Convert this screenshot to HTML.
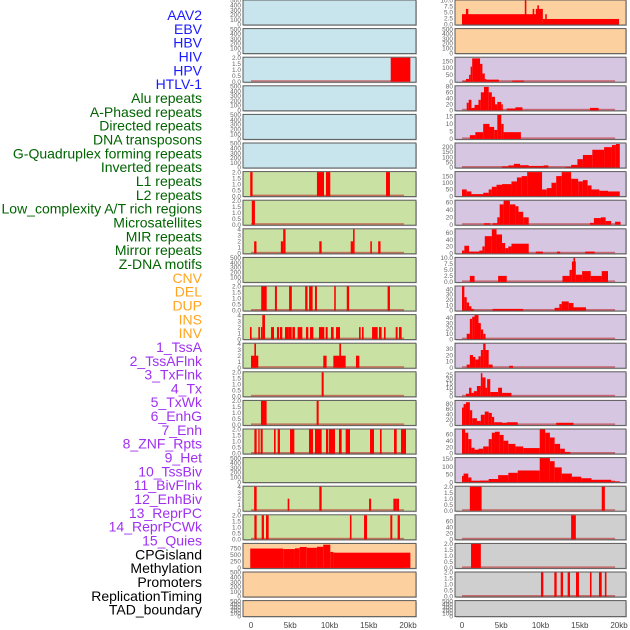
<!DOCTYPE html>
<html><head><meta charset="utf-8">
<style>
html,body{margin:0;padding:0;background:#fff;}
svg{display:block;font-family:"Liberation Sans",sans-serif;}
</style></head>
<body>
<svg id="chart" width="630" height="630" viewBox="0 0 630 630" xmlns="http://www.w3.org/2000/svg">
<g id="labels"></g>
<g id="panels"></g>
<g id="xaxes"></g>
</svg>
<script>
const trackLabels = ["AAV2","EBV","HBV","HIV","HPV","HTLV-1","Alu repeats","A-Phased repeats","Directed repeats","DNA transposons","G-Quadruplex forming repeats","Inverted repeats","L1 repeats","L2 repeats","Low_complexity A/T rich regions","Microsatellites","MIR repeats","Mirror repeats","Z-DNA motifs","CNV","DEL","DUP","INS","INV","1_TssA","2_TssAFlnk","3_TxFlnk","4_Tx","5_TxWk","6_EnhG","7_Enh","8_ZNF_Rpts","9_Het","10_TssBiv","11_BivFlnk","12_EnhBiv","13_ReprPC","14_ReprPCWk","15_Quies","CPGisland","Methylation","Promoters","ReplicationTiming","TAD_boundary"];
const labelColors = ["#1a1aff","#1a1aff","#1a1aff","#1a1aff","#1a1aff","#1a1aff","#006400","#006400","#006400","#006400","#006400","#006400","#006400","#006400","#006400","#006400","#006400","#006400","#006400","#ffa520","#ffa520","#ffa520","#ffa520","#ffa520","#a030f0","#a030f0","#a030f0","#a030f0","#a030f0","#a030f0","#a030f0","#a030f0","#a030f0","#a030f0","#a030f0","#a030f0","#a030f0","#a030f0","#a030f0","#000","#000","#000","#000","#000"];
const xTickValues = [0,5,10,15,20];
const xTickLabels = ["0","5kb","10kb","15kb","20kb"];
const ticks500 = [0,100,200,300,400,500];
const ticks2 = [0,0.5,1.0,1.5,2.0];
const ticks4 = [0,1,2,3,4];
const ticks10 = [0,2.5,5.0,7.5,10.0];

// segments: [startKb, endKb, value]
const segsR0 = [[0,10,4.3],[0.5,0.8,6.5],[8.0,8.2,10],[9.0,9.2,6.5],[9.4,10.3,6.5],[9.6,9.8,8],[10.3,20,2.3],[10.6,10.8,4.3]];
const segsL2 = [[17.8,20.3,2]];
const segsR2 = [[0.1,0.5,5],[0.5,0.9,20],[0.9,1.1,50],[1.1,1.3,110],[1.3,2.3,170],[2.3,2.6,130],[2.6,2.9,60],[2.9,3.1,20],[3.1,4.7,15],[6.4,7.9,8]];
const segsR3 = [[0.6,0.85,25],[0.85,1.2,35],[1.2,1.6,8],[1.6,2.1,18],[2.1,2.4,35],[2.4,2.8,60],[2.8,3.4,78],[3.4,3.8,60],[3.8,4.2,45],[4.2,4.5,20],[4.5,5.0,28],[5.0,5.2,20],[5.7,6.8,6],[6.8,7.7,10],[16.3,17.4,8]];
const segsR4 = [[1.0,1.7,2.5],[1.7,2.7,4.5],[2.7,3.5,10],[3.5,4.1,8],[4.1,4.5,6],[4.5,5.0,16],[5.0,5.3,10],[5.3,5.8,4.5],[5.8,7.5,4.5]];
const segsR5 = [[5.1,5.9,10],[5.9,6.6,20],[6.6,7.4,35],[7.4,8.5,22],[8.5,10.4,15],[10.4,11.0,20],[13.2,13.9,5],[13.9,14.7,25],[14.7,15.4,80],[15.4,16.6,120],[16.6,18.1,170],[18.1,19.1,195],[19.1,19.6,215],[19.6,20.1,225]];
const segsL6 = [[-0.1,0.2,2],[8.4,9.3,2],[9.55,10.1,2],[17.2,17.7,2]];
const segsR6 = [[0,0.6,50],[0.6,1.2,35],[1.2,2.7,15],[2.7,3.4,25],[3.4,3.8,50],[3.8,4.4,70],[4.4,5.1,85],[5.1,6.3,90],[6.3,7.0,110],[7.0,7.6,140],[7.6,8.3,150],[8.3,10.2,180],[10.2,10.8,50],[10.8,11.4,60],[11.4,12.0,100],[12.0,12.7,150],[12.7,13.9,180],[13.9,14.8,130],[14.8,15.4,110],[15.4,16.0,120],[16.0,16.5,80],[16.5,17.5,50],[17.5,18.6,40],[18.6,20.1,35]];
const segsL7 = [[0.1,0.5,2]];
const segsR7 = [[2.8,3.6,4],[3.9,4.5,4],[4.5,4.8,20],[4.8,5.3,55],[5.3,6.1,65],[6.1,6.8,55],[6.8,7.2,50],[7.2,7.8,35],[7.8,8.5,20],[16.3,16.8,5],[16.8,17.7,18],[17.7,18.3,20],[18.3,19.0,10],[19.5,20.2,8]];
const segsL8 = [[0.4,0.7,2],[3.8,4.1,2],[4.1,4.4,4],[8.7,9.0,2],[12.7,13.0,2],[13.0,13.2,4],[15.2,15.4,2],[16.2,16.5,2]];
const segsR8 = [[0,0.3,8],[0.3,0.9,22],[0.9,2.2,5],[2.2,2.6,8],[2.6,2.9,20],[2.9,3.8,50],[3.8,4.4,70],[4.4,5.1,55],[5.1,5.5,30],[5.5,5.9,15],[5.9,6.3,20],[6.3,8.5,28],[9.4,10.3,5],[12.1,12.5,5],[15.7,16.9,5]];
const segsR9 = [[1.0,1.6,2.5],[4.6,5.7,2.5],[12.8,13.7,2.5],[13.7,14.0,5],[14.0,14.5,8.5],[14.2,14.4,10],[14.5,15.3,3],[15.3,16.4,4.5],[16.4,17.8,2.5],[17.8,18.6,4.5]];
const segsL10 = [[1.3,2.0,2],[3.05,3.3,2],[4.85,5.2,2],[6.9,7.2,2],[7.4,7.85,2],[8.15,8.4,2],[10.6,10.8,2],[12.2,12.5,2],[17.4,17.7,2]];
const segsR10 = [[0,0.3,45],[0.3,0.6,25],[0.6,0.9,15],[0.9,1.2,8],[1.2,1.5,3],[3.9,7.8,3],[11.8,12.4,5],[12.4,12.7,12],[12.7,13.6,17],[13.6,14.2,14],[14.2,15.8,6]];
const segsL11 = [[-0.13,0.08,2],[0.93,1.15,2],[1.27,1.44,2],[1.44,1.78,4],[2.55,2.93,2],[3.31,3.57,2],[3.69,3.99,2],[4.33,4.76,2],[4.76,5.18,2],[5.27,5.6,2],[5.94,6.54,2],[7.0,7.3,2],[7.52,7.94,2],[8.66,9.34,2],[9.51,9.77,2],[10.19,10.53,2],[10.83,11.34,2],[13.76,13.97,2],[14.14,14.35,2],[15.42,16.14,2],[16.3,16.64,2],[16.94,17.15,2],[18.43,18.68,2],[18.85,19.19,2]];
const segsR11 = [[0.6,1.0,10],[1.0,1.3,38],[1.3,1.6,42],[1.6,2.1,45],[2.1,2.4,30],[2.4,2.7,18],[2.7,3.0,10]];
const segsL12 = [[0.0,0.93,2],[0.43,0.64,4],[9.21,9.63,2],[10.49,12.06,2],[11.25,11.47,4],[13.37,13.8,2]];
const segsR12 = [[0.6,1.0,5],[1.0,1.4,20],[1.4,1.7,17],[1.7,2.1,13],[2.1,2.4,18],[2.4,2.7,28],[2.7,3.0,38],[3.0,3.4,28],[3.4,3.9,5],[6.0,6.5,3]];
const segsL13 = [[9.0,9.26,2]];
const segsR13 = [[0.5,0.9,3],[0.9,1.2,10],[1.2,1.5,4],[1.5,1.9,6],[1.9,2.4,12],[2.4,2.6,27],[2.6,3.0,22],[3.0,3.2,10],[3.2,3.6,20],[3.6,4.6,5],[4.6,5.1,10],[5.1,6.3,4]];
const segsL14 = [[1.27,1.99,2],[8.36,8.62,2]];
const segsR14 = [[0,0.2,65],[0.2,0.5,78],[0.5,1.0,85],[1.0,1.3,55],[1.3,1.9,25],[1.9,2.4,15],[2.4,2.9,38],[2.9,3.4,50],[3.4,3.8,45],[3.8,4.1,30],[4.1,5.1,10],[5.1,5.7,8],[5.7,7.1,10],[12.0,14.2,8]];
const segsL15 = [[0.43,0.72,2],[0.93,1.1,2],[1.23,1.49,2],[2.93,3.14,2],[3.4,3.69,2],[4.97,5.52,2],[7.39,7.9,2],[8.15,9.0,2],[9.55,9.85,2],[9.94,10.7,2],[11.21,11.55,2],[12.06,12.61,2],[15.16,15.67,2],[16.43,16.64,2],[18.22,18.56,2],[19.11,19.75,2]];
const segsR15 = [[0,0.4,75],[0.4,0.8,65],[0.8,1.2,45],[1.2,1.6,18],[1.6,2.1,12],[2.1,2.7,15],[2.7,3.4,22],[3.4,3.8,45],[3.8,4.2,65],[4.2,4.8,68],[4.8,5.3,58],[5.3,5.9,40],[5.9,6.8,30],[6.8,7.8,22],[7.8,9.9,17],[9.9,10.6,75],[10.6,11.2,65],[11.2,11.8,50],[11.8,12.5,30],[12.5,13.1,15],[13.1,13.8,5]];
const segsR16 = [[0,0.2,40],[0.2,0.8,55],[0.8,1.2,30],[1.2,2.3,8],[2.3,3.4,10],[3.4,4.6,20],[4.6,5.9,45],[5.9,7.1,60],[7.1,9.9,75],[9.9,11.2,155],[11.2,11.8,135],[11.8,12.7,95],[12.7,14.0,55],[14.0,15.2,35],[15.2,16.5,25],[16.5,19.0,15],[19.0,20.1,5]];
const segsL17 = [[0.4,0.72,4],[4.67,4.88,2],[8.7,9.0,4],[15.04,15.3,2],[18.14,18.56,2],[18.56,18.85,2]];
const segsR17 = [[1.0,2.5,2],[17.8,18.2,2]];
const segsL18 = [[0.43,0.72,2],[1.36,1.65,2],[1.91,2.25,2],[12.6,12.8,2],[14.4,14.78,2],[17.75,18.0,2],[18.68,18.97,2]];
const segsR18 = [[13.9,14.5,80]];
const segsL19 = [[-0.1,4.1,750],[4.1,5.6,730],[5.6,6.2,760],[6.2,7.1,810],[7.1,8.4,780],[8.4,9.2,820],[9.2,10.1,900],[10.1,10.5,620],[10.5,20.3,590]];
const segsR19 = [[1.15,2.4,2]];
const segsR20 = [[10.06,10.36,2],[11.76,12.06,2],[12.57,12.87,2],[13.46,13.76,2],[14.52,14.9,2],[16.3,16.5,2],[17.45,17.8,2],[18.2,18.4,2]];

const BLUE="#c8e4ec", GREEN="#c9e2a4", PEACH="#fdd09f", PURP="#d6c6e2", GRAY="#cfcfcf";
function P(bg,ymax,ticks,segs){return {bg:bg,ymax:ymax,ticks:ticks,segs:segs};}
const rows = [
 [P(BLUE,500,ticks500,[]), P(PEACH,10,ticks10,segsR0)],
 [P(BLUE,500,ticks500,[]), P(PEACH,500,ticks500,[])],
 [P(BLUE,2,ticks2,segsL2), P(PURP,175,[0,50,100,150],segsR2)],
 [P(BLUE,500,ticks500,[]), P(PURP,80,[0,20,40,60,80],segsR3)],
 [P(BLUE,500,ticks500,[]), P(PURP,16,[0,5,10,15],segsR4)],
 [P(BLUE,500,ticks500,[]), P(PURP,230,[0,50,100,150,200],segsR5)],
 [P(GREEN,2,ticks2,segsL6), P(PURP,180,[0,50,100,150],segsR6)],
 [P(GREEN,2,ticks2,segsL7), P(PURP,65,[0,20,40,60],segsR7)],
 [P(GREEN,4,ticks4,segsL8), P(PURP,70,[0,20,40,60],segsR8)],
 [P(GREEN,500,ticks500,[]), P(PURP,10,ticks10,segsR9)],
 [P(GREEN,2,ticks2,segsL10), P(PURP,45,[0,10,20,30,40],segsR10)],
 [P(GREEN,4,ticks4,segsL11), P(PURP,45,[0,10,20,30,40],segsR11)],
 [P(GREEN,4,ticks4,segsL12), P(PURP,38,[0,10,20,30],segsR12)],
 [P(GREEN,2,ticks2,segsL13), P(PURP,28,[0,5,10,15,20,25],segsR13)],
 [P(GREEN,2,ticks2,segsL14), P(PURP,90,[0,20,40,60,80],segsR14)],
 [P(GREEN,2,ticks2,segsL15), P(PURP,75,[0,20,40,60],segsR15)],
 [P(GREEN,500,ticks500,[]), P(PURP,155,[0,50,100,150],segsR16)],
 [P(GREEN,4,ticks4,segsL17), P(GRAY,2,ticks2,segsR17)],
 [P(GREEN,2,ticks2,segsL18), P(GRAY,80,[0,20,40,60],segsR18)],
 [P(PEACH,930,[0,250,500,750],segsL19), P(GRAY,2,ticks2,segsR19)],
 [P(PEACH,500,ticks500,[]), P(GRAY,2,ticks2,segsR20)],
 [P(PEACH,500,ticks500,[]), P(GRAY,500,ticks500,[])]
];

const NS="http://www.w3.org/2000/svg";
function mk(tag,attrs,parent){const e=document.createElementNS(NS,tag);for(const k in attrs)e.setAttribute(k,attrs[k]);parent.appendChild(e);return e;}
const panelX=[{x0:243,x1:416,z:251,k:7.85},{x0:455,x1:626,z:462,k:7.85}];
function xScale(side,kb){return panelX[side].z+kb*panelX[side].k;}
function rowTop(i){return 28.6*i;}
function rowH(i){return i===21?16:25;}

const gl=document.getElementById('labels');
trackLabels.forEach((t,i)=>{
  const e=mk('text',{x:202,y:20+i*13.83,'text-anchor':'end','font-size':'14',fill:labelColors[i]},gl);
  e.textContent=t;
  
  
});

const gp=document.getElementById('panels');
rows.forEach((row,i)=>{
  const top=rowTop(i), h=rowH(i);
  row.forEach((p,side)=>{
    const g=mk('g',{},gp);
    
    
    const px=panelX[side];
    mk('rect',{x:px.x0+1,y:top+1,width:px.x1-px.x0,height:h,fill:'#999',opacity:0.5},g);
    mk('rect',{x:px.x0,y:top,width:px.x1-px.x0,height:h,fill:p.bg,stroke:'#5a5a5a','stroke-width':1},g);
    const y=v=>top+h-0.5-(v/p.ymax)*(h-1);
    if(p.segs.length){
      const bl=mk('rect',{x:xScale(side,0),y:top+h-2,width:xScale(side,19.5)-xScale(side,0),height:1.5,fill:'rgba(190,40,40,0.6)'},g);
      
      
    }
    p.segs.forEach(s=>{
      const x1=xScale(side,s[0]), x2=xScale(side,s[1]);
      const yy=y(s[2]);
      const b=mk('rect',{x:x1,y:yy,width:Math.max(1,x2-x1),height:top+h-0.5-yy,fill:'#ff0000'},g);
      
      
    });
    const tx=px.x0-2;
    p.ticks.forEach(t=>{
      const e=mk('text',{x:tx,y:y(t)+2.2,'text-anchor':'end','font-size':'6.5',fill:'#666'},g);
      e.textContent=(p.ymax<=10 && p.ticks===ticks2)||(p.ticks===ticks10)?t.toFixed(1):String(t);
      
      
    });
  });
});

const gx=document.getElementById('xaxes');
[0,1].forEach(side=>{
  xTickValues.forEach((v,j)=>{
    const e=mk('text',{x:xScale(side,v),y:628,'text-anchor':'middle','font-size':'8',fill:'#444'},gx);
    e.textContent=xTickLabels[j];
    
    
  });
});
</script>
</body></html>
